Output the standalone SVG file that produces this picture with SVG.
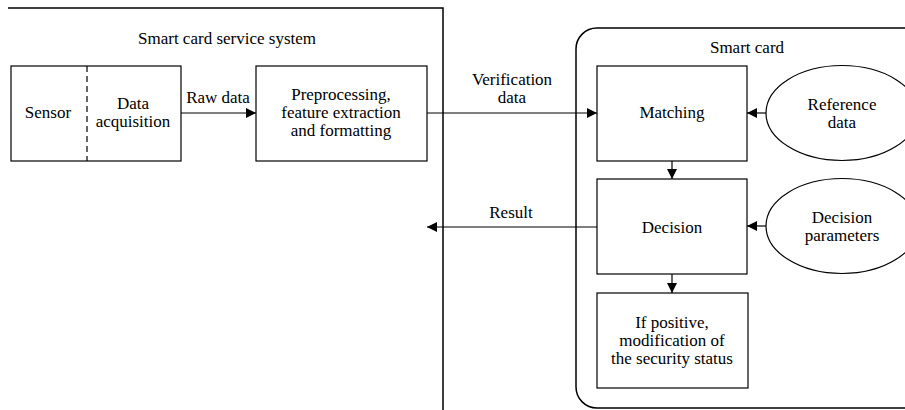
<svg xmlns="http://www.w3.org/2000/svg" width="905" height="410" viewBox="0 0 905 410" font-family="Liberation Serif, DejaVu Serif, serif" font-size="17">
<style>
text{fill:#000;text-anchor:middle}
.box{fill:#fff;stroke:#000;stroke-width:1.2}
.frame{fill:none;stroke:#000;stroke-width:1.5}
.con{fill:none;stroke:#000;stroke-width:1.2}
</style>
<defs>
<marker id="ah" viewBox="0 0 10 10" refX="10" refY="5" markerWidth="10" markerHeight="10" markerUnits="userSpaceOnUse" orient="auto">
<path d="M0,0 L10,5 L0,10 Z" fill="#000"/>
</marker>
</defs>
<rect width="905" height="410" fill="#fff"/>
<g id="service-system">
<path class="frame" d="M8,8 H443 V410"/>
<text x="227" y="44">Smart card service system</text>
</g>
<g id="smart-card">
<path class="frame" d="M910,28 H597 A21,21 0 0 0 576,49 V387 A21,21 0 0 0 597,408 H910"/>
<text x="747" y="53">Smart card</text>
</g>
<g id="sensor">
<rect class="box" x="11" y="66" width="170" height="95"/>
<line x1="87" y1="66" x2="87" y2="161" stroke="#000" stroke-width="1.2" stroke-dasharray="6,4"/>
<text x="48" y="118">Sensor</text>
<text x="133" y="109">Data</text>
<text x="133" y="127">acquisition</text>
</g>
<g id="preprocessing">
<rect class="box" x="256" y="66" width="171" height="95"/>
<text x="341" y="100">Preprocessing,</text>
<text x="341" y="118">feature extraction</text>
<text x="341" y="136">and formatting</text>
</g>
<g id="matching">
<rect class="box" x="597" y="66" width="150" height="95"/>
<text x="672" y="118">Matching</text>
</g>
<g id="reference-data">
<ellipse class="box" cx="842" cy="113" rx="76" ry="47.5"/>
<text x="842" y="110">Reference</text>
<text x="842" y="128">data</text>
</g>
<g id="decision">
<rect class="box" x="597" y="179" width="150" height="95"/>
<text x="672" y="233">Decision</text>
</g>
<g id="decision-parameters">
<ellipse class="box" cx="842" cy="226" rx="76" ry="47.5"/>
<text x="842" y="223">Decision</text>
<text x="842" y="241">parameters</text>
</g>
<g id="security-status">
<rect class="box" x="597" y="293" width="151" height="95"/>
<text x="672" y="328">If positive,</text>
<text x="672" y="346">modification of</text>
<text x="672" y="364">the security status</text>
</g>
<g id="connectors">
<line class="con" x1="181" y1="113" x2="256" y2="113" marker-end="url(#ah)"/>
<line class="con" x1="427" y1="113" x2="597" y2="113" marker-end="url(#ah)"/>
<line class="con" x1="766" y1="113" x2="747" y2="113" marker-end="url(#ah)"/>
<line class="con" x1="672" y1="161" x2="672" y2="179" marker-end="url(#ah)"/>
<line class="con" x1="766" y1="226" x2="747" y2="226" marker-end="url(#ah)"/>
<line class="con" x1="597" y1="227" x2="427" y2="227" marker-end="url(#ah)"/>
<line class="con" x1="672" y1="274" x2="672" y2="293" marker-end="url(#ah)"/>
<text x="218" y="103">Raw data</text>
<text x="512" y="85">Verification</text>
<text x="512" y="103">data</text>
<text x="511" y="218">Result</text>
</g>
</svg>
